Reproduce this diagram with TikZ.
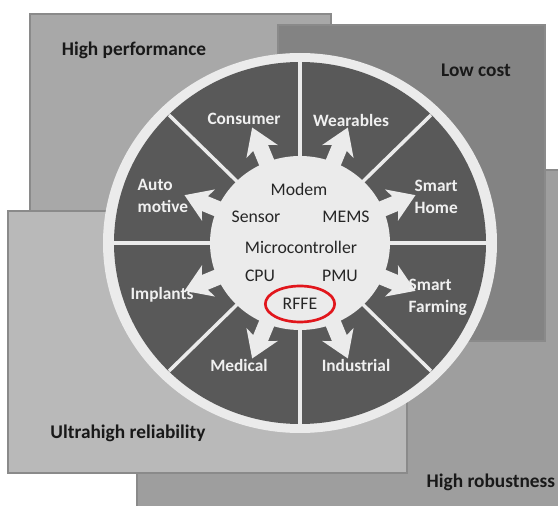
\documentclass[tikz,border=0pt]{standalone}
\usepackage{fontspec}
\setmainfont{Carlito}
\usetikzlibrary{shapes.geometric}

\definecolor{perfgray}{HTML}{A8A8A8}
\definecolor{costgray}{HTML}{838383}
\definecolor{robgray}{HTML}{9E9E9E}
\definecolor{relgray}{HTML}{B9B9B9}
\definecolor{edgegray}{HTML}{8A8A8A}
\definecolor{ringgray}{HTML}{EBEBEB}
\definecolor{sectorgray}{HTML}{595959}
\definecolor{markred}{HTML}{E1161C}

\begin{document}
\begin{tikzpicture}[x=0.75pt, y=-0.75pt,
    box/.style={draw=edgegray, line width=0.8pt},
    cornertext/.style={font=\fontsize{14.5}{17}\selectfont\bfseries, text=black!90},
    sectortext/.style={font=\fontsize{13}{16.5}\selectfont\bfseries, text=white!94!black, align=left},
    coretext/.style={font=\fontsize{13.3}{15}\selectfont, text=black!85},
    spoke/.style={fill=ringgray},
    divider/.style={draw=ringgray, line width=2.6pt}]

\useasboundingbox (0,0) rectangle (558,506);

\fill[white] (0,0) rectangle (558,506);

\draw[box, fill=perfgray] (30,14) rectangle (331,300);
\draw[box, fill=robgray] (137,170) rectangle (565,512);
\draw[box, fill=costgray] (278,25) rectangle (545,341);
\draw[box, fill=relgray] (8,211) rectangle (407,473);

\coordinate (c) at (300,243);

\fill[ringgray] (c) ellipse [x radius=197, y radius=190];
\fill[sectorgray] (c) ellipse [x radius=186, y radius=181];

\begin{scope}[shift={(c)}]
\draw[divider] (-190,0) -- (190,0);
\draw[divider] (0,-185) -- (0,185);
\draw[divider] (-131,-128) -- (131,128);
\draw[divider] (-131,128) -- (131,-128);
\end{scope}

\fill[ringgray] (c) ellipse [x radius=90, y radius=87];

\fill[spoke, shift={(c)}, rotate=22.5] (80,-8) -- (103,-8) -- (99,-17) -- (125,0) -- (99,17) -- (103,8) -- (80,8) -- cycle;
\fill[spoke, shift={(c)}, rotate=67.5] (80,-8) -- (103,-8) -- (99,-17) -- (125,0) -- (99,17) -- (103,8) -- (80,8) -- cycle;
\fill[spoke, shift={(c)}, rotate=112.5] (80,-8) -- (103,-8) -- (99,-17) -- (125,0) -- (99,17) -- (103,8) -- (80,8) -- cycle;
\fill[spoke, shift={(c)}, rotate=157.5] (80,-8) -- (103,-8) -- (99,-17) -- (125,0) -- (99,17) -- (103,8) -- (80,8) -- cycle;
\fill[spoke, shift={(c)}, rotate=202.5] (80,-8) -- (103,-8) -- (99,-17) -- (125,0) -- (99,17) -- (103,8) -- (80,8) -- cycle;
\fill[spoke, shift={(c)}, rotate=247.5] (80,-8) -- (103,-8) -- (99,-17) -- (125,0) -- (99,17) -- (103,8) -- (80,8) -- cycle;
\fill[spoke, shift={(c)}, rotate=292.5] (80,-8) -- (103,-8) -- (99,-17) -- (125,0) -- (99,17) -- (103,8) -- (80,8) -- cycle;
\fill[spoke, shift={(c)}, rotate=337.5] (80,-8) -- (103,-8) -- (99,-17) -- (125,0) -- (99,17) -- (103,8) -- (80,8) -- cycle;

\node[cornertext] (perf) at (134,50) {High performance};
\node[cornertext] (cost) at (476,70) {Low cost};
\node[cornertext] (rel) at (128,433) {Ultrahigh reliability};
\node[cornertext, anchor=west] (rob) at (422,482) {High robustness};

\node[sectortext] (cons) at (244,119) {Consumer};
\node[sectortext] (wear) at (351,120) {Wearables};
\node[sectortext, anchor=west] (auto) at (133,196) {Auto\\motive};
\node[sectortext, anchor=west] (home) at (410,197) {Smart\\Home};
\node[sectortext] (impl) at (162,295) {Implants};
\node[sectortext, anchor=west] (farm) at (404,297) {Smart\\Farming};
\node[sectortext] (med) at (239,365) {Medical};
\node[sectortext] (ind) at (356,365) {Industrial};

\node[coretext] (modem) at (299,189) {Modem};
\node[coretext] (sens) at (256,217) {Sensor};
\node[coretext] (mems) at (346,217) {MEMS};
\node[coretext] (mcu) at (301,247) {Microcontroller};
\node[coretext] (cpu) at (260,276) {CPU};
\node[coretext] (pmu) at (340,276) {PMU};
\node[coretext, ellipse, draw=markred, line width=2pt, minimum width=52pt, minimum height=27pt, inner sep=0pt] (rffe) at (300,304) {RFFE};

\end{tikzpicture}
\end{document}
